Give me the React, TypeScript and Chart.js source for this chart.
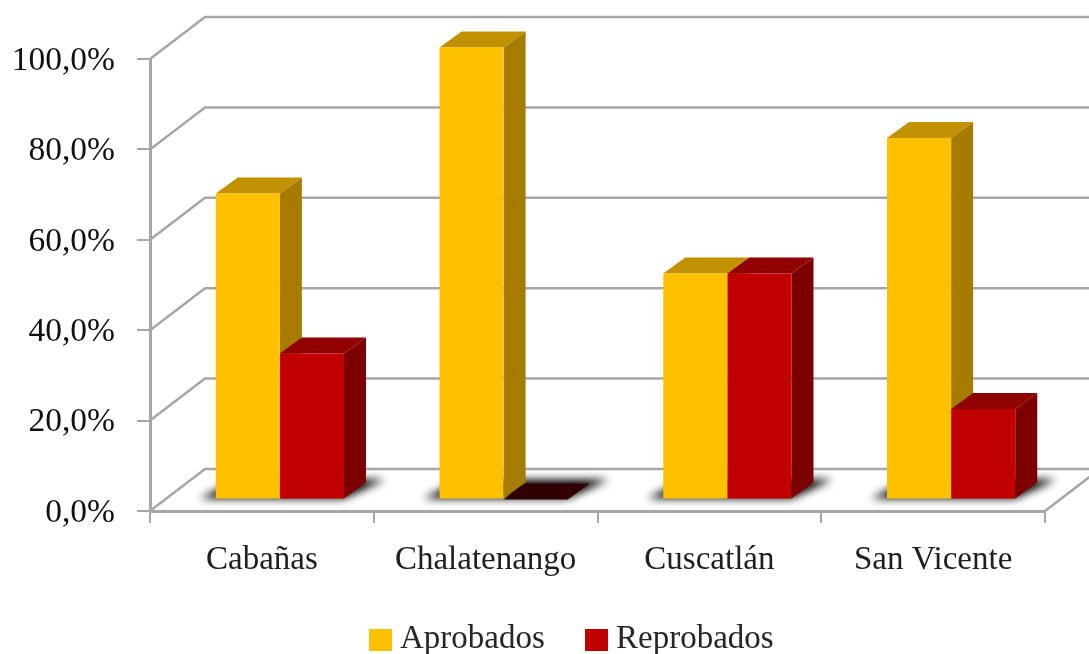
import React, { useEffect, useRef } from "react";
import { Chart, registerables } from "chart.js";

Chart.register(...registerables);

const categories = ["Cabañas", "Chalatenango", "Cuscatlán", "San Vicente"];
const aprobados = [67.7, 100, 50, 80];
const reprobados = [32.3, 0, 50, 20];

const WALL = { dx: 55, dy: 42 };
const BAR = { dx: 22, dy: 16, ox: 18, oy: -11.5 };
const GRID = "#a6a6a6";
const FONT = "'Liberation Serif', serif";
const LEGEND = [
  { box: 369, text: 400 },
  { box: 585, text: 616 },
];
const FACES: Record<string, { top: string; side: string; zero: string }> = {
  "#FFC000": { top: "#C29100", side: "#A67C00", zero: "#C29100" },
  "#C00000": { top: "#900000", side: "#7C0000", zero: "#300000" },
};

const scene = {
  id: "scene",
  afterUpdate(chart: any) {
    chart.scales.y.getLabelItems(chart.chartArea).forEach((item: any) => {
      item.options.translation[1] += 2;
    });
  },
  beforeDatasetsDraw(chart: any) {
    const { ctx, scales, chartArea } = chart;
    const y = scales.y;
    const W = chart.width;
    ctx.save();
    // Walls and floor
    ctx.strokeStyle = GRID;
    ctx.lineWidth = 2.5;
    y.ticks.forEach((t: any) => {
      const py = y.getPixelForValue(t.value);
      ctx.beginPath();
      ctx.moveTo(chartArea.left, py);
      ctx.lineTo(chartArea.left + WALL.dx, py - WALL.dy);
      ctx.lineTo(W + 5, py - WALL.dy);
      ctx.stroke();
    });
    ctx.beginPath();
    ctx.moveTo(chartArea.right, chartArea.bottom);
    ctx.lineTo(chartArea.right + WALL.dx, chartArea.bottom - WALL.dy);
    ctx.stroke();
    // Soft shadows on the floor under each pair of bars
    const a = chart.getDatasetMeta(0).data;
    const b = chart.getDatasetMeta(1).data;
    ctx.save();
    ctx.filter = "blur(4px)";
    ctx.fillStyle = "#000000";
    a.forEach((el: any, i: number) => {
      const l = el.x - el.width / 2 + BAR.ox;
      const r = b[i].x + b[i].width / 2 + BAR.ox;
      const base = el.base + BAR.oy;
      ctx.beginPath();
      ctx.moveTo(l - 16, base);
      ctx.lineTo(r, base);
      ctx.lineTo(r + BAR.dx + 19, base - BAR.dy - 3);
      ctx.lineTo(l + BAR.dx, base - BAR.dy - 3);
      ctx.closePath();
      ctx.fill();
    });
    ctx.restore();
    // Side and top faces, first series first
    ctx.translate(BAR.ox, BAR.oy);
    [0, 1].forEach((d) => {
      const ds = chart.data.datasets[d];
      const f = FACES[ds.backgroundColor];
      chart.getDatasetMeta(d).data.forEach((el: any, i: number) => {
        const l = el.x - el.width / 2;
        const r = el.x + el.width / 2;
        const t = el.y;
        const bt = el.base;
        ctx.fillStyle = f.side;
        ctx.beginPath();
        ctx.moveTo(r, t);
        ctx.lineTo(r + BAR.dx, t - BAR.dy);
        ctx.lineTo(r + BAR.dx, bt - BAR.dy);
        ctx.lineTo(r, bt);
        ctx.closePath();
        ctx.fill();
        ctx.fillStyle = ds.data[i] === 0 ? f.zero : f.top;
        ctx.beginPath();
        ctx.moveTo(l, t);
        ctx.lineTo(l + BAR.dx, t - BAR.dy);
        ctx.lineTo(r + BAR.dx, t - BAR.dy);
        ctx.lineTo(r, t);
        ctx.closePath();
        ctx.fill();
      });
    });
    ctx.restore();
  },
  beforeDatasetDraw(chart: any) {
    chart.ctx.save();
    chart.ctx.translate(BAR.ox, BAR.oy);
  },
  afterDatasetDraw(chart: any) {
    chart.ctx.restore();
  },
  afterDraw(chart: any) {
    const { ctx } = chart;
    ctx.save();
    ctx.font = `33px ${FONT}`;
    ctx.textBaseline = "alphabetic";
    ctx.textAlign = "left";
    chart.data.datasets.forEach((ds: any, i: number) => {
      ctx.fillStyle = ds.backgroundColor;
      ctx.fillRect(LEGEND[i].box, 629, 23, 22);
      ctx.fillStyle = "#262626";
      ctx.fillText(ds.label, LEGEND[i].text, 648);
    });
    ctx.restore();
  },
};

export default function App() {
  const ref = useRef<HTMLCanvasElement>(null);
  useEffect(() => {
    document.body.style.margin = "0";
    const chart = new Chart(ref.current!, {
      type: "bar",
      data: {
        labels: categories,
        datasets: [
          { label: "Aprobados", data: aprobados, backgroundColor: "#FFC000", clip: false as any },
          { label: "Reprobados", data: reprobados, backgroundColor: "#C00000", clip: false as any },
        ],
      },
      options: {
        responsive: false,
        animation: false,
        layout: { padding: { top: 59, right: 44, left: 0, bottom: 0 } },
        datasets: { bar: { categoryPercentage: 0.573, barPercentage: 1 } },
        plugins: {
          tooltip: { enabled: false },
          legend: { display: false },
        },
        scales: {
          x: {
            grid: { drawOnChartArea: false, drawTicks: true, tickLength: 12, color: GRID, lineWidth: 2 },
            border: { display: true, color: GRID, width: 3 },
            ticks: { color: "#1f1f1f", font: { family: FONT, size: 33 }, padding: 18, maxRotation: 0 },
            afterFit(s: any) {
              s.height = 654 - 511;
            },
          },
          y: {
            min: 0,
            max: 100,
            grid: { drawOnChartArea: false, drawTicks: true, tickLength: 13, color: GRID, lineWidth: 2 },
            border: { display: true, color: GRID, width: 3 },
            ticks: {
              stepSize: 20,
              padding: 22,
              color: "#111111",
              font: { family: FONT, size: 33.5 },
              callback: (v: any) => `${Number(v).toFixed(1).replace(".", ",")}%`,
            },
            afterFit(s: any) {
              s.width = 150;
            },
          },
        },
      },
      plugins: [scene],
    } as any);
    return () => chart.destroy();
  }, []);
  return (
    <div style={{ width: 1089, height: 654, overflow: "hidden" }}>
      <canvas ref={ref} width={1089} height={654} style={{ display: "block", filter: "blur(0.6px)" }} />
    </div>
  );
}
